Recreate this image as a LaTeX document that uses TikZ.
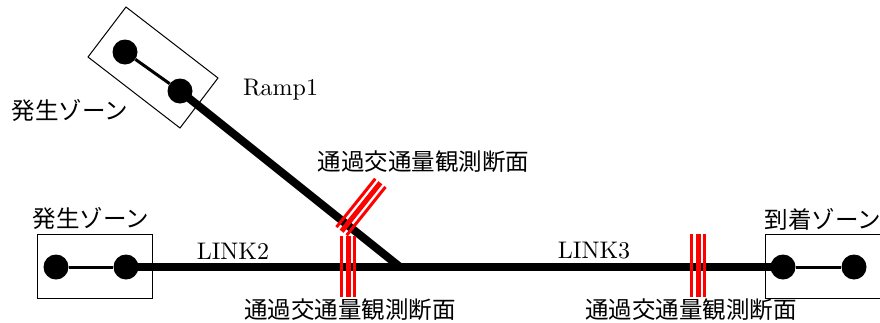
\documentclass[tikz,border=0pt]{standalone}
\usepackage{fontspec}
\newfontfamily\cjk{Noto Sans CJK JP}
\newfontfamily\lmten{lmroman10-regular.otf}
\begin{document}
\begin{tikzpicture}[x=1pt,y=-1pt,
  dot/.style={circle,fill=black,inner sep=0pt,minimum size=25pt},
  zonebox/.style={draw=black,line width=1pt},
  thin/.style={line width=3pt},
  thick/.style={line width=8pt},
  redline/.style={draw=red,line width=3pt},
  redmid/.style={draw=red,line width=5pt},
  jtext/.style={font=\cjk\fontsize{23.5}{28}\selectfont,inner sep=0pt,anchor=center},
  ltext/.style={font=\lmten\fontsize{24}{28}\selectfont,inner sep=0pt,anchor=center}]
\useasboundingbox (0,0) rectangle (880,322);
% boxes
\draw[zonebox] (126,7) -- (218,78) -- (180,128) -- (88,57) -- cycle;
\draw[zonebox] (37,234) rectangle (152,298);
\draw[zonebox] (765,234) rectangle (890,298);
% nodes
\node[dot] (r1) at (125,52) {};
\node[dot] (r2) at (180,91) {};
\node[dot] (l1) at (56,267) {};
\node[dot] (l2) at (126,267) {};
\node[dot] (e1) at (783,267) {};
\node[dot] (e2) at (854,267) {};
\coordinate (j) at (400,267);
% links
\draw[thin] (r1) -- (r2);
\draw[thin] (l1) -- (l2);
\draw[thin] (e1) -- (e2);
\draw[thick] (l2.center) -- (e1.center);
\draw[thick] (r2.center) -- (j);
% red observation marks
\draw[redline] (341.5,236) -- (341.5,297);
\draw[redmid] (348,236) -- (348,297);
\draw[redline] (354.5,236) -- (354.5,297);
\draw[redline] (691.5,234) -- (691.5,297);
\draw[redmid] (698,234) -- (698,297);
\draw[redline] (704.5,234) -- (704.5,297);
\draw[redline] (336.5,227.1) -- (375.3,178.7);
\draw[redmid] (341.6,231.2) -- (380.4,182.8);
\draw[redline] (346.7,235.3) -- (385.5,186.9);
% labels
\node[jtext] (t1) at (70,110) {発生ゾーン};
\node[jtext] (t2) at (91,218) {発生ゾーン};
\node[jtext] (t3) at (823,219) {到着ゾーン};
\node[jtext] (t4) at (423.5,162) {通過交通量観測断面};
\node[jtext] (t5) at (350,310) {通過交通量観測断面};
\node[jtext] (t6) at (691,310) {通過交通量観測断面};
\node[ltext] (ramp) at (280.5,90) {Ramp1};
\node[ltext] (link2) at (233,251) {LINK2};
\node[ltext] (link3) at (594,251) {LINK3};
\end{tikzpicture}
\end{document}
